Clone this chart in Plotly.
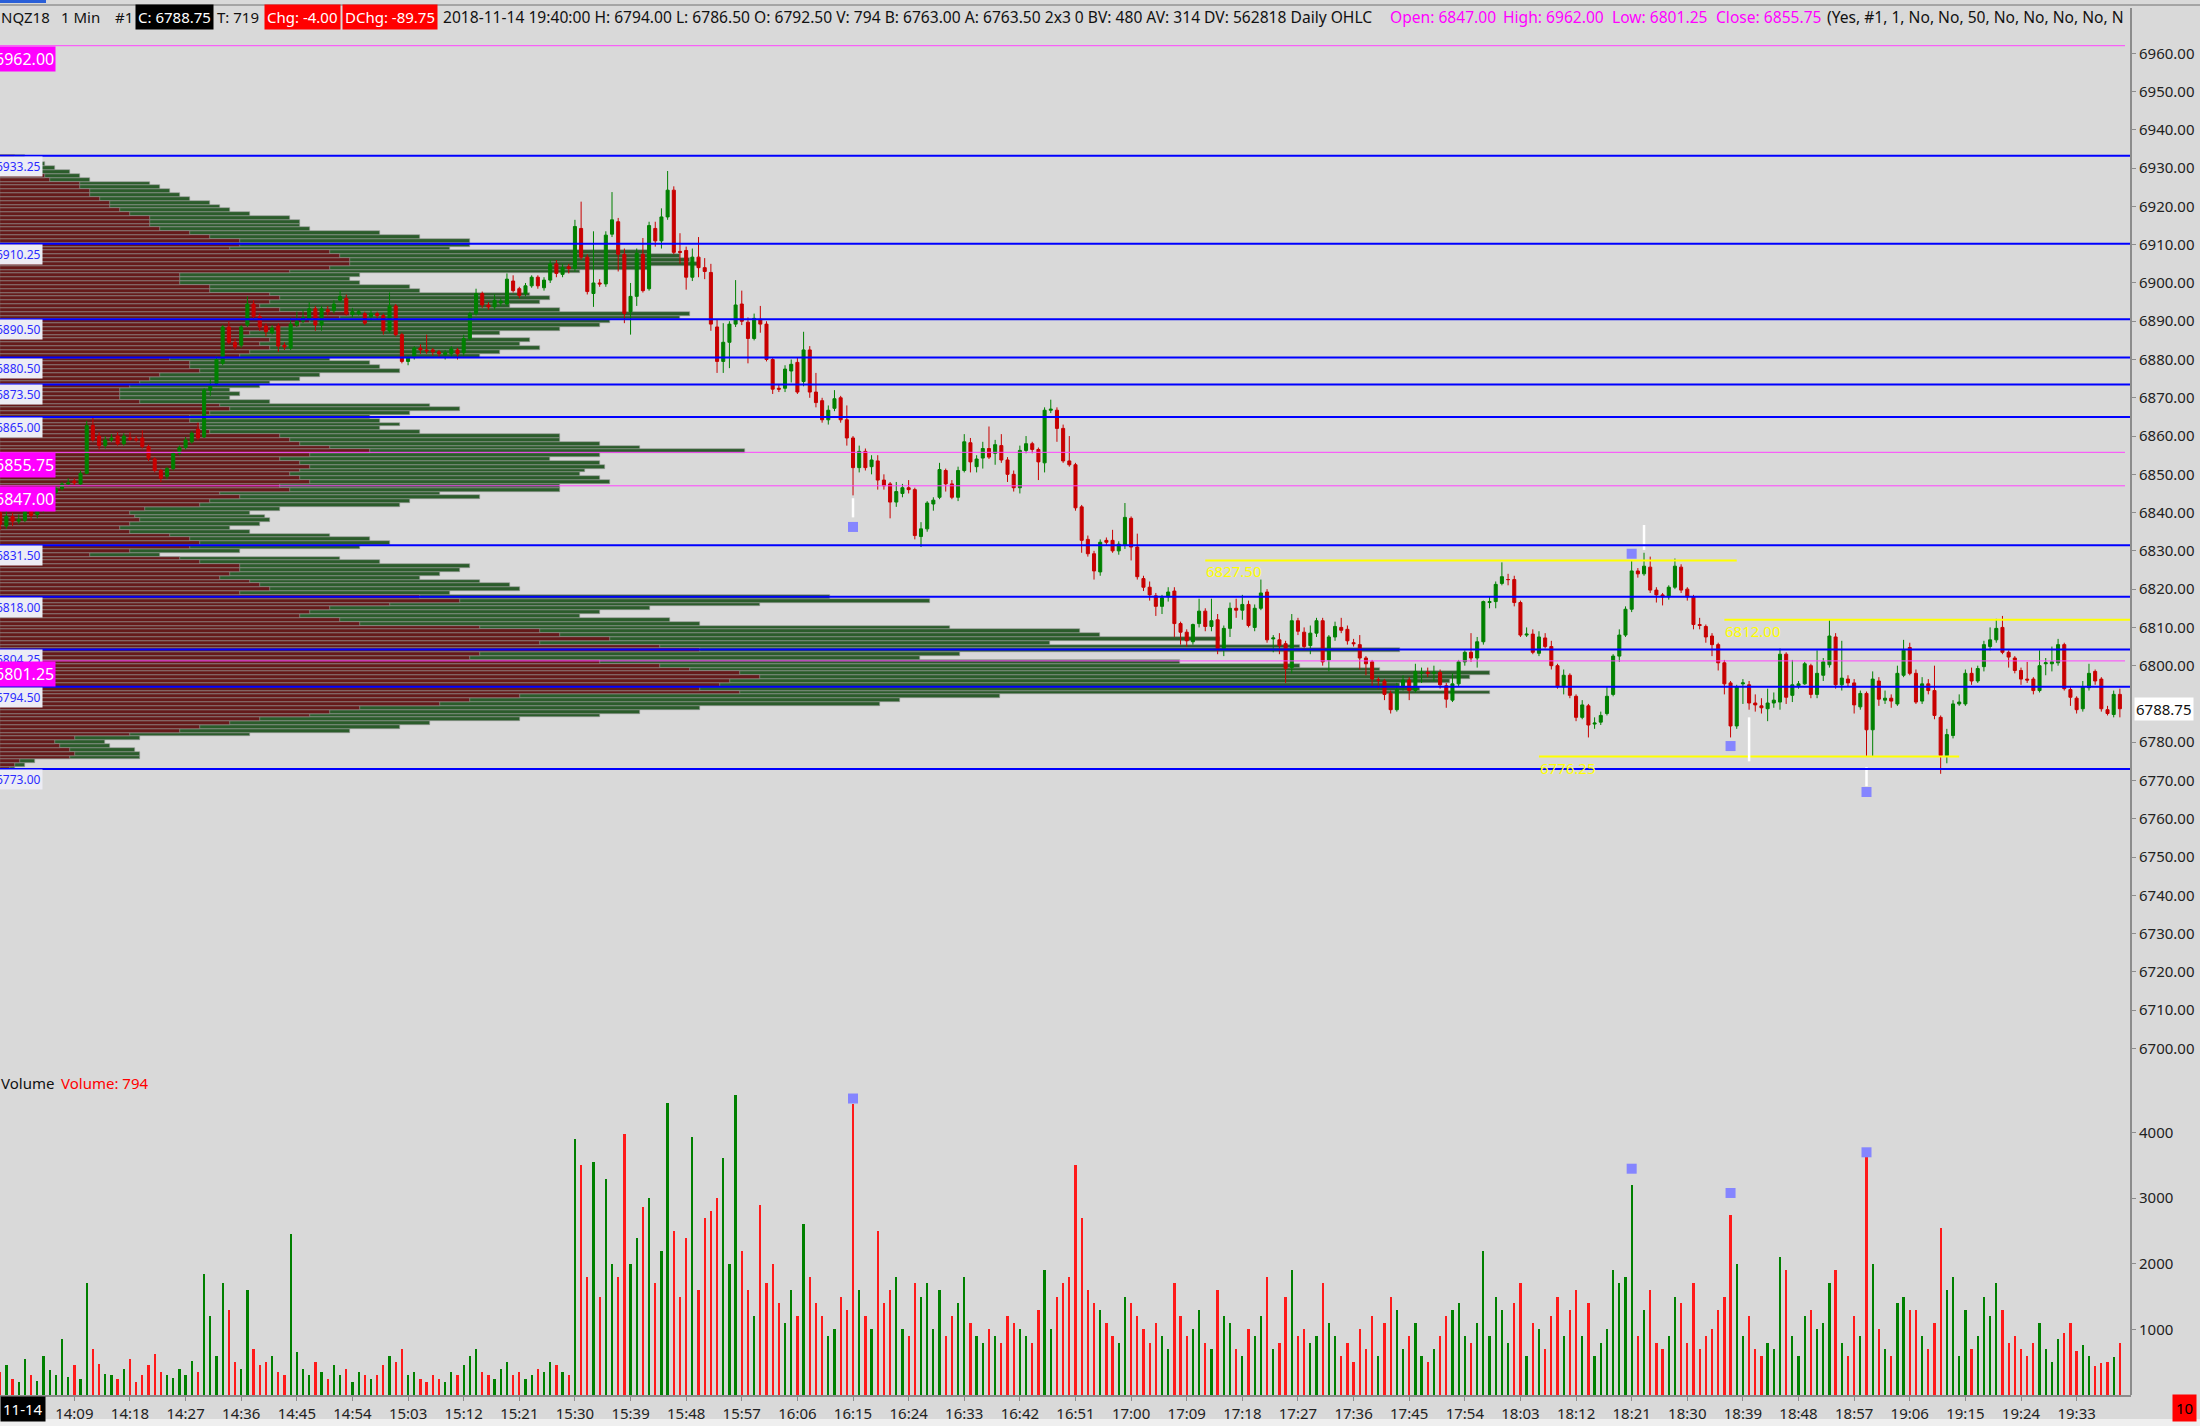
import pandas as pd
import plotly.graph_objects as go

# ---------------- data ----------------
session_start = "2018-11-14 13:57"   # first 1-minute bar

opens = [
    6840, 6836.5, 6839, 6837.75, 6838, 6841, 6839.5, 6840.5, 6841.75, 6845.25,
    6846.25, 6847.5, 6848.25, 6847.5, 6850.25, 6862.75, 6860, 6857.5, 6859, 6860,
    6858, 6859.5, 6859.25, 6859.5, 6857.25, 6854, 6851, 6849.5, 6851.5, 6855.5,
    6857, 6858.5, 6861.75, 6859.75, 6872, 6873.75, 6879, 6888.5, 6884.5, 6883.75,
    6889, 6894.5, 6891.25, 6888.75, 6887, 6888.75, 6883.75, 6883, 6889, 6890,
    6890.5, 6893.25, 6889, 6893, 6892.75, 6895.5, 6896, 6891.75, 6892, 6892,
    6891.25, 6892, 6891.5, 6887.5, 6894, 6886.5, 6879.5, 6880.75, 6883, 6882.5,
    6882.5, 6882, 6881.25, 6881.5, 6882.5, 6881.75, 6885.5, 6892, 6897.25, 6894.25,
    6893.75, 6894.75, 6894.5, 6900.5, 6898.5, 6897.25, 6899.25, 6901.5, 6898.75, 6900.75,
    6905, 6902.25, 6904.25, 6903.75, 6914.25, 6906.75, 6897.25, 6900, 6899.75, 6912.75,
    6916, 6907.5, 6892.5, 6896.5, 6907.5, 6898.5, 6914.25, 6911, 6917.25, 6924.25,
    6908.25, 6908.5, 6901.5, 6906.75, 6904, 6902.75, 6888.5, 6879.5, 6884.5, 6889.25,
    6894.5, 6889.75, 6885.5, 6890.5, 6889.25, 6880, 6872.5, 6872.5, 6877, 6879.25,
    6874.25, 6882.5, 6871.5, 6869.25, 6864.25, 6867.25, 6870, 6864.25, 6859.5, 6851.75,
    6856, 6852, 6853.5, 6848.5, 6847.5, 6842.75, 6845, 6846.5, 6846, 6833.75,
    6835.75, 6842.25, 6844, 6851, 6847.5, 6844, 6851, 6858.25, 6852, 6854.25,
    6856.75, 6855.5, 6857.5, 6853.75, 6850, 6846.5, 6856.25, 6858, 6856.5, 6853,
    6866.75, 6866.75, 6862, 6853.5, 6852.5, 6841.5, 6833, 6829.25, 6824.5, 6832.75,
    6832.75, 6830, 6831.5, 6838.5, 6831, 6822.75, 6820.5, 6818.25, 6815.5, 6818,
    6819.5, 6811, 6808.75, 6806.25, 6811, 6814.25, 6810.25, 6812, 6804.5, 6809.75,
    6815, 6814.5, 6816, 6810, 6815, 6819.25, 6807, 6806.75, 6805.75, 6799.5,
    6811.75, 6808.75, 6805.25, 6808.5, 6811.75, 6801.5, 6807.5, 6810, 6809.5, 6806,
    6805.5, 6802, 6801, 6796.25, 6796, 6792.75, 6788.5, 6794.5, 6796.25, 6793.5,
    6798, 6798.25, 6798, 6798.25, 6794.75, 6791, 6795.25, 6801, 6803.5, 6802,
    6806.25, 6816.5, 6816.75, 6821.5, 6822.5, 6822.5, 6816.5, 6808, 6808.25, 6803.25,
    6807.25, 6805, 6800, 6794.5, 6797.5, 6792, 6786.5, 6789.5, 6784.75, 6785.25,
    6787.5, 6792.5, 6802.5, 6808, 6814.75, 6824.75, 6824, 6825.75, 6819.75, 6818.5,
    6818, 6820.5, 6825.75, 6820, 6818, 6810.75, 6810.25, 6807.75, 6805.5, 6800.75,
    6795.5, 6784.25, 6795.25, 6795, 6790.25, 6789.5, 6788.75, 6790.25, 6790.5, 6803,
    6792.25, 6794.75, 6795.25, 6800, 6792.5, 6797.5, 6800.25, 6807.5, 6795, 6796.5,
    6795.5, 6789.25, 6792.75, 6783.25, 6796, 6791, 6791.5, 6790, 6797.5, 6804.75,
    6798, 6790.75, 6795.25, 6793.5, 6786.5, 6776.5, 6781.75, 6790, 6790, 6798,
    6796, 6799.75, 6805, 6806.75, 6810, 6803.5, 6802, 6798.75, 6796.5, 6796.5,
    6793.5, 6800.5, 6800.5, 6800.75, 6805.5, 6793.75, 6791.5, 6788.75, 6794.25, 6798.5,
    6796.5, 6788.5, 6787.25, 6792.5,
]
highs = [
    6841, 6840.5, 6840, 6839.5, 6842, 6842.5, 6842, 6843, 6845, 6847,
    6848, 6849, 6849, 6851, 6864, 6865, 6861, 6860, 6860.5, 6861,
    6860.75, 6861, 6860, 6861.5, 6857.75, 6854.5, 6851.5, 6852, 6856, 6857.5,
    6859.75, 6861.25, 6863.5, 6872.5, 6875, 6881, 6889, 6890, 6885.5, 6889,
    6896.5, 6895.5, 6892, 6889.5, 6889, 6889.5, 6884.5, 6891, 6892.5, 6893,
    6895, 6894, 6894, 6894, 6895.5, 6898, 6897, 6893.5, 6893, 6892.5,
    6893, 6892.5, 6892, 6897.5, 6894.5, 6887, 6881, 6883.5, 6884, 6886.5,
    6883, 6882.5, 6882.5, 6883.5, 6883, 6886.5, 6892.5, 6898.5, 6897.75, 6895,
    6897, 6896, 6902.5, 6902, 6899, 6900, 6902, 6902, 6901.5, 6906,
    6906, 6905, 6905, 6916.5, 6921.25, 6907.5, 6913.5, 6901, 6913.5, 6923.75,
    6917, 6909, 6900, 6909, 6911.75, 6916, 6916, 6919.5, 6929.25, 6925.25,
    6913, 6909.5, 6909, 6912, 6906.5, 6905, 6890.5, 6889.5, 6890, 6900.75,
    6898, 6891, 6892, 6894, 6890, 6880.5, 6873.5, 6878.5, 6880, 6880.5,
    6887.25, 6883.5, 6876.5, 6870, 6868, 6872, 6870.5, 6868, 6860, 6857.5,
    6856.75, 6855, 6855, 6850, 6848, 6848, 6847.5, 6848.5, 6846.5, 6837.5,
    6843, 6844, 6853, 6851.5, 6848.5, 6852, 6860.5, 6859.5, 6855, 6858.5,
    6862.5, 6859, 6860.5, 6854.5, 6851, 6857.5, 6860, 6858.5, 6857, 6867.5,
    6869.5, 6867.5, 6863, 6860, 6853, 6842, 6834, 6830, 6833, 6833.5,
    6835.5, 6832.5, 6842.5, 6839, 6834.5, 6823.5, 6822, 6819, 6818.5, 6820.5,
    6820.5, 6811.5, 6809.5, 6811, 6817.5, 6815, 6817.5, 6813.5, 6810.5, 6816.5,
    6817.5, 6818.5, 6817, 6816, 6822.5, 6820, 6808, 6808.5, 6806.5, 6813.5,
    6812.5, 6810, 6810.5, 6812.5, 6812.5, 6808, 6811.5, 6812.5, 6810.5, 6807,
    6808, 6802.5, 6801.5, 6797, 6796.5, 6793.5, 6795.5, 6797.5, 6797, 6800.5,
    6799.5, 6799.5, 6800, 6799, 6795.5, 6798, 6801.5, 6804, 6808.5, 6807.5,
    6817, 6818, 6822, 6827, 6824, 6823.5, 6817, 6810, 6809.5, 6809,
    6808.5, 6806.5, 6800.5, 6799, 6798, 6792.5, 6791, 6790, 6786.5, 6788,
    6794.5, 6803, 6809.5, 6815.5, 6827.5, 6825.5, 6829.5, 6828.5, 6820.5, 6819,
    6821, 6828, 6826.5, 6820.5, 6818.5, 6812.5, 6810.75, 6808.5, 6806, 6801.5,
    6796, 6795, 6796.5, 6796, 6792.5, 6791.5, 6794, 6793, 6804.5, 6803.5,
    6801.5, 6796, 6801, 6800.5, 6804, 6802, 6812, 6808.5, 6806.5, 6797.5,
    6796.5, 6793.5, 6793.25, 6798.5, 6797, 6793.5, 6792.5, 6800, 6806.75, 6806,
    6799, 6797, 6796.5, 6800, 6787, 6783.5, 6791, 6792.5, 6799, 6799.5,
    6800, 6806.5, 6810, 6812.25, 6813, 6804, 6802.5, 6799.5, 6801, 6797,
    6804, 6802, 6805, 6807, 6806, 6794.5, 6792, 6796, 6800.5, 6799,
    6797, 6789.5, 6793.5, 6794,
]
lows = [
    6835.5, 6835.75, 6836.5, 6837, 6837.5, 6838, 6838.5, 6840, 6841, 6844.5,
    6845.75, 6847, 6847, 6847, 6850, 6858.5, 6856.5, 6856.75, 6858.5, 6857.5,
    6857.5, 6858.75, 6858.5, 6856.75, 6853.5, 6850.5, 6848, 6848.75, 6851, 6855,
    6856.5, 6858, 6859, 6859.5, 6870.5, 6873, 6878.5, 6884, 6882.5, 6883,
    6888.5, 6890.5, 6887.5, 6886, 6886.5, 6882, 6882.5, 6882.5, 6888.5, 6889.5,
    6890, 6887.5, 6887.5, 6891.5, 6892, 6895, 6891.5, 6891, 6891.5, 6889,
    6890, 6890.5, 6886.5, 6887, 6886, 6879, 6878.5, 6880, 6881.5, 6881.5,
    6881, 6880.5, 6880, 6880.5, 6880, 6881, 6885, 6891.5, 6893.5, 6893,
    6893, 6894, 6894, 6897.5, 6896, 6896.5, 6898.75, 6898.5, 6898, 6900,
    6901.5, 6901.5, 6902.5, 6903, 6906, 6897, 6893.75, 6899, 6899, 6912,
    6903, 6889.5, 6886.5, 6894, 6897.5, 6898, 6909.5, 6909, 6916.5, 6907.5,
    6905, 6898.25, 6900.5, 6901.5, 6901, 6887.5, 6876.5, 6876.5, 6877.75, 6888.5,
    6889, 6879, 6885, 6887, 6879.5, 6871, 6871.5, 6871.5, 6874, 6871,
    6873, 6870, 6867.5, 6863.5, 6863, 6866.5, 6863.5, 6857.5, 6844.5, 6850.5,
    6851, 6850, 6846, 6846, 6838.5, 6841.5, 6844, 6845, 6833, 6831,
    6835, 6840.5, 6843.5, 6845.5, 6843.5, 6843, 6850.5, 6850.5, 6850.5, 6851.5,
    6854, 6852.5, 6853, 6848, 6845.5, 6845, 6855.5, 6855.5, 6848.5, 6850.5,
    6866, 6858.5, 6853, 6852, 6840.5, 6829.5, 6828.5, 6822.5, 6823.5, 6831.5,
    6829.5, 6829, 6830.5, 6827.5, 6822.5, 6819.5, 6817, 6813, 6813.5, 6816.75,
    6807.5, 6805.5, 6805, 6805.5, 6810, 6809, 6809, 6803, 6802.5, 6807.5,
    6812.5, 6812, 6810, 6809, 6814.5, 6806, 6803.5, 6803, 6795.5, 6798,
    6808, 6804, 6803, 6807.5, 6800, 6798.5, 6806.5, 6808.5, 6805.5, 6805,
    6799, 6797.5, 6794.5, 6794, 6791, 6787.5, 6788, 6793.5, 6791, 6793,
    6795.5, 6797, 6796, 6794, 6789, 6790.5, 6794.5, 6800, 6801, 6799.5,
    6805.5, 6815, 6815, 6821, 6821, 6815.5, 6807.5, 6807.5, 6803, 6802.5,
    6804.5, 6799, 6794, 6792.5, 6791.5, 6785.5, 6786, 6781.25, 6783.5, 6784.5,
    6787, 6792, 6801, 6807.5, 6814, 6823, 6823.5, 6819, 6816.5, 6815.75,
    6817.25, 6820, 6819, 6817, 6809.5, 6809.5, 6806, 6802.5, 6798.75, 6792.5,
    6781.25, 6783.5, 6790, 6788.5, 6788, 6787.5, 6785.5, 6789, 6788.5, 6790,
    6790.5, 6794, 6795, 6791.5, 6791.5, 6796, 6799.5, 6794, 6793.5, 6794.5,
    6787.5, 6788.5, 6776.25, 6776.25, 6789.5, 6790, 6789, 6789.5, 6797, 6797.5,
    6790, 6790, 6792.5, 6786, 6771.75, 6774.5, 6781, 6789.5, 6789.5, 6795,
    6795.5, 6798.5, 6804, 6806, 6803, 6799.5, 6798, 6795, 6795.5, 6792.5,
    6793, 6797.5, 6798.5, 6800, 6793.5, 6789.5, 6787.5, 6788, 6793.5, 6795,
    6788, 6787, 6786.5, 6786.5,
]
closes = [
    6837, 6839, 6837.75, 6838.25, 6840.5, 6839.25, 6840.5, 6841.75, 6844, 6846.25,
    6847.5, 6847.75, 6847.75, 6850.25, 6862.75, 6859, 6857.5, 6859, 6859.5, 6858,
    6860, 6859.25, 6859, 6857.25, 6854.25, 6851, 6849, 6851.5, 6855.5, 6857,
    6859, 6860.75, 6859.5, 6872, 6873, 6880, 6888.5, 6884.5, 6883.25, 6888.5,
    6894.5, 6891.25, 6888.5, 6887.25, 6888.25, 6883.5, 6883.25, 6889.25, 6890, 6891,
    6893.25, 6889, 6893.25, 6892.5, 6894.5, 6896.5, 6892, 6892.5, 6892.5, 6889.5,
    6892, 6891.5, 6887.5, 6894, 6886.5, 6879.5, 6880.5, 6883, 6882.5, 6882.25,
    6882, 6881.5, 6881.75, 6882.75, 6881.5, 6885.5, 6892, 6897.25, 6894.25, 6893.75,
    6895.5, 6895.25, 6901, 6898, 6896.75, 6899.25, 6901.5, 6899.25, 6900.75, 6905,
    6902.5, 6904, 6903.75, 6914.75, 6906.75, 6897.75, 6900, 6899.75, 6912.5, 6916.5,
    6907.5, 6892, 6896.5, 6907.75, 6898, 6915, 6911, 6917.25, 6924.25, 6908,
    6908, 6901.5, 6906.75, 6904, 6903, 6889.25, 6879.5, 6884.5, 6889.25, 6894.25,
    6890, 6885.5, 6890.75, 6889.25, 6880, 6872.25, 6872.25, 6877.5, 6878.75, 6871.5,
    6882.5, 6871.5, 6868.75, 6864.25, 6866.75, 6869.75, 6864.25, 6859.5, 6851.75, 6856,
    6851.75, 6853.75, 6848.5, 6847, 6842.75, 6845.5, 6846.5, 6846, 6834, 6835.75,
    6842.5, 6843.25, 6851.25, 6847.5, 6844, 6851, 6858.5, 6853.25, 6854, 6856.75,
    6854.5, 6857.75, 6853.75, 6850, 6846.5, 6856.25, 6858, 6856.5, 6853.25, 6866.75,
    6867, 6862, 6853.5, 6852.5, 6841.25, 6832.75, 6829.25, 6824.75, 6832.25, 6832.25,
    6830, 6831.75, 6838.75, 6831, 6823.25, 6820.5, 6818.5, 6815.5, 6817.75, 6819.25,
    6811, 6808.75, 6806.5, 6810.75, 6814.25, 6810.25, 6811.75, 6804.5, 6809.75, 6815,
    6814.5, 6816, 6810.5, 6815, 6819, 6806.75, 6807.25, 6805.25, 6799.25, 6811.75,
    6809, 6805, 6808.5, 6811.75, 6801, 6807.5, 6810.25, 6809.25, 6806.5, 6805.75,
    6802, 6800.5, 6796.5, 6796.25, 6792.5, 6788.5, 6793.75, 6796.25, 6793.5, 6798.5,
    6798.25, 6798, 6798.25, 6795, 6791.25, 6795.25, 6801, 6803.5, 6802, 6806.25,
    6816.75, 6816.75, 6821.25, 6823.25, 6822.5, 6816.5, 6808, 6808.25, 6803.5, 6807.5,
    6805, 6800, 6794.5, 6797.5, 6792.25, 6786.5, 6789.75, 6784.5, 6785, 6787,
    6792, 6802.5, 6808, 6814.75, 6824.75, 6824, 6826, 6819.75, 6818.5, 6818,
    6820.5, 6826, 6819.75, 6818, 6810.75, 6810.5, 6807.5, 6805.5, 6800.75, 6795.25,
    6784.25, 6794.5, 6795.5, 6790.25, 6789.75, 6789, 6790.25, 6791, 6803, 6791.75,
    6795, 6795.25, 6800.5, 6792.5, 6798, 6801, 6807.75, 6795, 6796.75, 6795.5,
    6789.75, 6792.75, 6783.25, 6796.5, 6791.25, 6791.5, 6790.75, 6798, 6804, 6798,
    6790.5, 6795.25, 6793.5, 6787, 6776.5, 6782, 6790, 6790.5, 6798, 6796,
    6799.25, 6805.5, 6806.75, 6809.75, 6803.5, 6802.25, 6798.75, 6796.5, 6796.25, 6793.5,
    6800, 6800.75, 6801, 6805.5, 6794, 6791.75, 6788.5, 6794.5, 6798, 6796,
    6788.75, 6787.5, 6792.5, 6788.75,
]
volumes = [
    350, 450, 250, 200, 550, 300, 220, 600, 380, 300,
    850, 280, 450, 250, 1700, 700, 480, 320, 300, 250,
    400, 550, 200, 300, 450, 620, 350, 300, 260, 400,
    300, 520, 350, 1850, 1200, 600, 1700, 1300, 500, 400,
    1600, 700, 450, 500, 600, 350, 300, 2450, 650, 400,
    300, 500, 350, 250, 450, 300, 400, 200, 350, 300,
    250, 300, 450, 600, 500, 700, 300, 350, 250, 200,
    300, 250, 200, 350, 300, 450, 600, 700, 350, 300,
    250, 400, 500, 300, 350, 250, 300, 400, 350, 500,
    450, 350, 300, 3900, 3500, 1800, 3550, 1500, 3300, 2000,
    1800, 3980, 2000, 2400, 2870, 3000, 1700, 2200, 4450, 2500,
    1500, 2400, 3940, 1600, 2700, 2800, 3000, 3620, 2000, 4580,
    2200, 1600, 1200, 2900, 1700, 2000, 1400, 1100, 1600, 1200,
    2600, 1800, 1400, 1200, 900, 1000, 1500, 1300, 4430, 1600,
    1200, 1000, 2500, 1400, 1600, 1800, 1000, 900, 1700, 1500,
    1700, 1000, 1600, 900, 1200, 1400, 1800, 1100, 900, 800,
    1000, 900, 800, 1200, 1100, 1000, 900, 800, 1300, 1900,
    1000, 1500, 1700, 1800, 3500, 2700, 1600, 1400, 1300, 1100,
    900, 800, 1500, 1400, 1200, 1000, 800, 1100, 900, 700,
    1700, 1200, 900, 1000, 1300, 800, 700, 1600, 1200, 1100,
    700, 600, 1000, 900, 1200, 1800, 700, 800, 1500, 1900,
    900, 1000, 800, 900, 1700, 1100, 900, 600, 800, 500,
    1000, 700, 1200, 600, 1100, 1500, 1300, 700, 900, 1100,
    600, 500, 700, 900, 1200, 1300, 1400, 900, 800, 1100,
    2200, 900, 1500, 1300, 800, 1400, 1700, 600, 1100, 1000,
    700, 1200, 1500, 900, 1300, 1600, 900, 1400, 600, 800,
    1000, 1900, 1700, 1800, 3200, 900, 1300, 1600, 800, 700,
    900, 1500, 1400, 800, 1700, 700, 900, 1000, 1300, 1500,
    2750, 2000, 900, 1200, 700, 600, 800, 700, 2100, 1900,
    900, 600, 1200, 1300, 1000, 1100, 1700, 1900, 800, 600,
    1200, 900, 3650, 2000, 1000, 700, 600, 1400, 1500, 1300,
    1300, 900, 700, 1100, 2550, 1600, 1800, 600, 1300, 700,
    900, 1500, 1200, 1700, 1300, 800, 900, 700, 600, 800,
    1100, 700, 510, 850, 950, 1100, 670, 760, 590, 440,
    490, 510, 575, 794,
]

time_labels = ["14:09", "14:18", "14:27", "14:36", "14:45", "14:54", "15:03", "15:12",
               "15:21", "15:30", "15:39", "15:48", "15:57", "16:06", "16:15", "16:24",
               "16:33", "16:42", "16:51", "17:00", "17:09", "17:18", "17:27", "17:36",
               "17:45", "17:54", "18:03", "18:12", "18:21", "18:30", "18:39", "18:48",
               "18:57", "19:06", "19:15", "19:24", "19:33"]
session_date = "2018-11-14"
date_label = "11-14"

price_ticks = [6700, 6710, 6720, 6730, 6740, 6750, 6760, 6770, 6780, 6800,
               6810, 6820, 6830, 6840, 6850, 6860, 6870, 6880, 6890, 6900,
               6910, 6920, 6930, 6940, 6950, 6960]
volume_ticks = [1000, 2000, 3000, 4000]

# volume-at-price profile (one row per point, 6773 .. 6933)
profile_first_price = 6773
profile_total = [
    15, 25, 35, 140, 140, 135, 110, 105, 140, 250,
    350, 400, 430, 520, 600, 640, 700, 880, 900, 1000,
    1490, 1420, 1400, 1450, 1470, 1490, 1380, 1300, 1180, 920,
    960, 1400, 1300, 1050, 1220, 1100, 1080, 950, 700, 670,
    580, 600, 650, 760, 930, 830, 450, 520, 510, 480,
    420, 440, 460, 470, 380, 340, 160, 240, 360, 390,
    370, 330, 250, 230, 260, 270, 265, 250, 280, 400,
    410, 480, 440, 560, 560, 610, 600, 580, 585, 605,
    600, 550, 600, 745, 640, 600, 560, 560, 420, 380,
    400, 380, 370, 410, 460, 430, 270, 230, 240, 230,
    260, 270, 300, 320, 400, 380, 370, 330, 480, 500,
    540, 520, 530, 470, 500, 560, 600, 610, 680, 690,
    560, 510, 540, 550, 530, 420, 410, 360, 350, 360,
    580, 650, 700, 690, 680, 650, 450, 470, 470, 420,
    380, 310, 300, 300, 290, 250, 230, 220, 210, 190,
    180, 170, 160, 150, 90, 80, 70, 55, 45, 35,
    25,
]
profile_bid = [
    10, 15, 20, 70, 75, 70, 60, 55, 75, 130,
    180, 200, 230, 260, 310, 330, 360, 440, 470, 520,
    740, 700, 720, 730, 760, 740, 690, 660, 600, 470,
    480, 700, 660, 540, 610, 560, 540, 480, 360, 340,
    300, 310, 330, 390, 460, 420, 240, 270, 260, 250,
    220, 230, 240, 240, 200, 180, 90, 130, 190, 200,
    190, 170, 130, 120, 130, 140, 135, 130, 145, 200,
    210, 240, 220, 290, 280, 310, 300, 290, 300, 310,
    300, 280, 310, 370, 330, 300, 290, 280, 210, 200,
    200, 190, 190, 210, 230, 220, 140, 120, 120, 120,
    130, 140, 150, 160, 200, 190, 190, 170, 240, 250,
    270, 260, 270, 240, 250, 280, 300, 310, 340, 350,
    280, 260, 270, 280, 270, 210, 210, 180, 180, 180,
    290, 330, 350, 350, 340, 330, 230, 240, 240, 210,
    190, 160, 150, 150, 150, 130, 120, 110, 110, 100,
    90, 90, 80, 80, 50, 45, 40, 30, 25, 20,
    15,
]

blue_levels = [6933.25, 6910.25, 6890.50, 6880.50, 6873.50, 6865.00,
               6831.50, 6818.00, 6804.25, 6794.50, 6773.00]
magenta_levels = [6962.00, 6855.75, 6847.00, 6801.25]

yellow_levels = [6827.50, 6812.00, 6776.25]
yellow_start = ["17:12", "18:36", "18:06"]
yellow_end = ["18:38", "19:41:48", "19:14"]

signal_times = ["16:15", "18:21", "18:37", "18:59"]
signal_prices = [6836.25, 6829.25, 6779.00, 6767.00]
signal_volumes = [4520, 3450, 3080, 3700]
stem_times = ["16:15", "18:23", "18:40", "18:59"]
stem_from = [6838.75, 6830.25, 6775.00, 6768.50]
stem_to = [6843.75, 6836.75, 6786.50, 6773.50]

last_price = 6788.75

# ---------------- geometry helpers (layout only) ----------------
W, H = 2200, 1426
ML, MR, MT, MB = 0, 69, 30, 31
PW, PH = W - ML - MR, H - MT - MB


def px_x(x):
    return (x - ML) / PW


def px_y(y):
    return 1 - (y - MT) / PH


BG = "#d9d9d9"
FONT = "Noto Sans"
GREEN = "#008000"
RED = "#c80000"

times = pd.date_range(session_start, periods=len(closes), freq="min")
up = [c >= o for o, c in zip(opens, closes)]
vol_colors = [GREEN if u else "#ff1a1a" for u in up]


def ts(hm):
    return f"{session_date} {hm}"


x_left = ts("13:56:58")
x_right = ts("19:41:48")

fig = go.Figure()

# profile (base linear axis x / y)
profile_prices = [profile_first_price + i for i in range(len(profile_total))]
fig.add_trace(go.Bar(
    y=profile_prices, x=profile_total, orientation="h", xaxis="x", yaxis="y",
    width=1.0, marker=dict(color="#2b5c2b", line=dict(color="#9a9a9a", width=0.6)),
    hoverinfo="skip", showlegend=False))
fig.add_trace(go.Bar(
    y=profile_prices, x=profile_bid, orientation="h", xaxis="x", yaxis="y",
    width=1.0, marker=dict(color="#651a1a", line=dict(color="#9a9a9a", width=0.6)),
    hoverinfo="skip", showlegend=False))

# candles (time axis x2 overlaying)
fig.add_trace(go.Candlestick(
    x=times, open=opens, high=highs, low=lows, close=closes,
    xaxis="x2", yaxis="y",
    increasing=dict(line=dict(color=GREEN, width=1), fillcolor=GREEN),
    decreasing=dict(line=dict(color=RED, width=1), fillcolor=RED),
    whiskerwidth=0, hoverinfo="skip", showlegend=False))

# yellow levels
for lvl, s, e in zip(yellow_levels, yellow_start, yellow_end):
    fig.add_trace(go.Scatter(x=[ts(s), ts(e)], y=[lvl, lvl], mode="lines",
                             line=dict(color="#ffff00", width=2), xaxis="x2", yaxis="y",
                             hoverinfo="skip", showlegend=False))

# white stems and blue signal squares
for t, a, b in zip(stem_times, stem_from, stem_to):
    fig.add_trace(go.Scatter(x=[ts(t), ts(t)], y=[a, b], mode="lines",
                             line=dict(color="#ffffff", width=2.5), xaxis="x2", yaxis="y",
                             hoverinfo="skip", showlegend=False))
fig.add_trace(go.Scatter(x=[ts(t) for t in signal_times], y=signal_prices, mode="markers",
                         marker=dict(symbol="square", size=10, color="#8585ff"),
                         xaxis="x2", yaxis="y", hoverinfo="skip", showlegend=False))

# volume
fig.add_trace(go.Bar(x=times, y=volumes, marker=dict(color=vol_colors, line=dict(width=0)),
                     width=22000, xaxis="x3", yaxis="y2", hoverinfo="skip", showlegend=False))
fig.add_trace(go.Scatter(x=[ts(t) for t in signal_times], y=signal_volumes, mode="markers",
                         marker=dict(symbol="square", size=10, color="#8585ff"),
                         xaxis="x3", yaxis="y2", hoverinfo="skip", showlegend=False))

shapes = []
for lvl in blue_levels:
    shapes.append(dict(type="line", xref="paper", yref="y", x0=0, x1=1, y0=lvl, y1=lvl,
                       line=dict(color="#0000ff", width=2)))
for lvl in magenta_levels:
    shapes.append(dict(type="line", xref="paper", yref="y", x0=0, x1=px_x(2125), y0=lvl, y1=lvl,
                       line=dict(color="#ff44ff", width=1)))
# right axis line
shapes.append(dict(type="line", xref="paper", yref="paper", x0=1, x1=1, y0=0, y1=px_y(8),
                   line=dict(color="#8c8c8c", width=2)))
# top border + tab
shapes.append(dict(type="line", xref="paper", yref="paper", x0=0, x1=px_x(W), y0=px_y(5), y1=px_y(5),
                   line=dict(color="#707070", width=1)))
shapes.append(dict(type="rect", xref="paper", yref="paper", x0=0, x1=px_x(46), y0=px_y(3), y1=px_y(0),
                   line=dict(width=0), fillcolor="#2a5fd8"))
# bottom light strip
shapes.append(dict(type="rect", xref="paper", yref="paper", x0=0, x1=px_x(W), y0=px_y(H), y1=px_y(1419),
                   line=dict(width=0), fillcolor="#efefef"))

ann = []


def add_text(x, y, text, color="#111111", size=15, bg=None, xanchor="left", yanchor="middle",
             xref="paper", yref="paper", xshift=0, pad=0):
    ann.append(dict(x=x, y=y, xref=xref, yref=yref, text=text, showarrow=False,
                    xanchor=xanchor, yanchor=yanchor, xshift=xshift,
                    font=dict(family=FONT, size=size, color=color),
                    bgcolor=bg, borderpad=pad))


hy = px_y(17)
add_text(px_x(0), hy, "NQZ18")
add_text(px_x(60), hy, "1 Min")
add_text(px_x(114), hy, "#1")
add_text(px_x(135), hy, "C: 6788.75", color="#ffffff", bg="#000000", pad=2)
add_text(px_x(216), hy, "T: 719")
add_text(px_x(264), hy, "Chg: -4.00", color="#ffffff", bg="#ff0000", pad=2)
add_text(px_x(342), hy, "DChg: -89.75", color="#ffffff", bg="#ff0000", pad=2)
add_text(px_x(442), hy, "2018-11-14 19:40:00 H: 6794.00 L: 6786.50 O: 6792.50 V: 794 B: 6763.00 "
                        "A: 6763.50 2x3 0 BV: 480 AV: 314 DV: 562818 Daily OHLC", size=15.6)
add_text(px_x(1389), hy, "Open: 6847.00", color="#ff00ff", size=15.6)
add_text(px_x(1502), hy, "High: 6962.00", color="#ff00ff", size=15.6)
add_text(px_x(1611), hy, "Low: 6801.25", color="#ff00ff", size=15.6)
add_text(px_x(1715), hy, "Close: 6855.75", color="#ff00ff", size=15.6)
add_text(px_x(1826), hy, "(Yes, #1, 1, No, No, 50, No, No, No, No, N", size=15.6)

# level labels
for lvl in blue_levels:
    add_text(0, lvl, f"{lvl:.2f}", color="#2b2bff", size=12, bg="#ececf4", yanchor="top",
             yref="y", xshift=-6, pad=1)
for lvl in magenta_levels:
    add_text(0, lvl, f"{lvl:.2f}", color="#ffffff", size=16, bg="#ff00ff", yanchor="top",
             yref="y", xshift=-7, pad=1)
for lvl, s in zip(yellow_levels, yellow_start):
    add_text(ts(s), lvl, f"{lvl:.2f}", color="#ffff00", size=15, yanchor="top", xref="x2", yref="y")

# last price marker on price scale
add_text(1, last_price, f"{last_price:.2f}", color="#111111", size=15, bg="#ffffff",
         yref="y", xshift=3, pad=1)

# volume title
add_text(px_x(0), px_y(1083), "Volume", size=15)
add_text(px_x(60), px_y(1083), "Volume: 794", color="#ff0000", size=15)

# date label & bottom-right counter
add_text(px_x(0), px_y(1409), date_label, color="#ffffff", size=15, bg="#000000", pad=2)
add_text(px_x(2172), px_y(1408), "10", color="#000000", size=15, bg="#ff0000", pad=3)

tick_vals = [ts(t) for t in time_labels]

fig.update_layout(
    width=W, height=H,
    margin=dict(l=ML, r=MR, t=MT, b=MB),
    paper_bgcolor=BG, plot_bgcolor=BG,
    barmode="overlay", bargap=0,
    showlegend=False,
    shapes=shapes, annotations=ann,
    xaxis=dict(domain=[0, 1], range=[0, PW], anchor="y", visible=False, fixedrange=True),
    xaxis2=dict(overlaying="x", anchor="y", type="date", range=[x_left, x_right],
                visible=False, rangeslider=dict(visible=False)),
    xaxis3=dict(domain=[0, 1], anchor="y2", type="date", range=[x_left, x_right],
                tickvals=tick_vals, ticktext=time_labels, ticks="outside", ticklen=4,
                tickcolor="#8c8c8c", showline=True, linecolor="#8c8c8c", linewidth=2,
                showgrid=False, zeroline=False,
                tickfont=dict(family=FONT, size=15, color="#222222")),
    yaxis=dict(domain=[px_y(1066), 1], range=[6695.4, 6966.1], anchor="x", side="right",
               tickvals=price_ticks, tickformat=".2f", ticks="outside", ticklen=4,
               tickcolor="#8c8c8c", showgrid=False, zeroline=False, showline=False,
               tickfont=dict(family=FONT, size=15, color="#222222")),
    yaxis2=dict(domain=[0, px_y(1069)], range=[0, 4970], anchor="x3", side="right",
                tickvals=volume_ticks, ticks="outside", ticklen=4,
                tickcolor="#8c8c8c", showgrid=False, zeroline=False, showline=False,
                tickfont=dict(family=FONT, size=15, color="#222222")),
)

fig.write_html("out.html", config={"displayModeBar": False},
               post_script="document.body.style.margin='0px';document.body.style.overflow='hidden';")
